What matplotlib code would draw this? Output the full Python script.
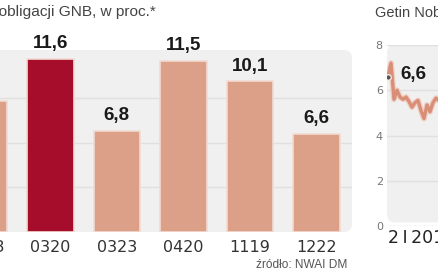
import numpy as np
import matplotlib
matplotlib.use("Agg")
import matplotlib.pyplot as plt
from matplotlib.patches import FancyBboxPatch

# bond yields (left panel)
series = ["0123", "0320", "0323", "0420", "1119", "1222"]
yields = [8.8, 11.6, 6.8, 11.5, 10.1, 6.6]
highlight = "0320"

# share price (right panel, start of the series)
price = [6.6, 7.2, 5.6, 6.0, 5.7, 5.6, 5.7, 5.5, 5.25, 5.45, 5.55, 5.1,
         4.75, 5.35, 5.05, 5.45, 5.65, 5.55, 5.6]
price_ticks = [0, 2, 4, 6, 8]

W, H = 439, 274
SALMON = "#dc9f88"
RED = "#a50d2b"
BG = "#f0f0f0"
LIGHT = ["Liberation Sans", "DejaVu Sans"]
BOLD = ["Liberation Sans", "DejaVu Sans"]


def fx(px):
    return px / W


def fy(py):
    return 1 - py / H


fig = plt.figure(figsize=(W / 100, H / 100), dpi=100)
fig.patch.set_facecolor("white")

# ---- left panel: bars ----
ax = fig.add_axes([fx(-60), fy(232), 412 / W, 182 / H])
ax.set_facecolor("none")
ax.set_xlim(-0.66, 5.536)
ax.set_ylim(0, 12.21)
bg = FancyBboxPatch((0, 0), 1, 1, boxstyle="round,pad=0,rounding_size=0.02",
                    mutation_aspect=412 / 182, transform=ax.transAxes,
                    facecolor=BG, edgecolor="none", zorder=0.2)
ax.add_patch(bg)
ax.set_yticks([3, 6, 9])
ax.yaxis.grid(True, color="#e0e0e0", linewidth=1)
ax.set_axisbelow(True)
for s in ax.spines.values():
    s.set_visible(False)

x = np.arange(len(series))
colors = [RED if s == highlight else SALMON for s in series]
bars = ax.bar(x, yields, width=0.7, color=colors, edgecolor="#f2dcd3",
              linewidth=1.2, zorder=2)
for xi, v in zip(x, yields):
    ax.annotate(f"{v:.1f}".replace(".", ","), (xi, v), xytext=(0, 5),
                textcoords="offset points", ha="center", va="bottom",
                fontsize=13.5, fontweight="bold", family=BOLD, color="#1a1a1a")
ax.set_xticks(x, series)
ax.tick_params(axis="x", length=0, pad=6, labelsize=11.5, labelcolor="#333333")
ax.tick_params(axis="y", length=0, labelleft=False)

fig.text(fx(156), fy(16), "Rentowność obligacji GNB, w proc.*", ha="right",
         va="baseline", fontsize=11.1, family=LIGHT, color="#444444")
fig.text(fx(347), fy(268), "źródło: NWAI DM", ha="right", va="baseline",
         fontsize=8.6, family=LIGHT, color="#555555")

# ---- right panel: line ----
ax2 = fig.add_axes([fx(387), fy(226), 200 / W, 181 / H])
ax2.set_facecolor("none")
ax2.set_xlim(-1 / 3, -1 / 3 + 200 / 3)
ax2.set_ylim(0, 8)
bg2 = FancyBboxPatch((0, 0.02), 1, 0.98, boxstyle="round,pad=0,rounding_size=0.04",
                     mutation_aspect=200 / 181, transform=ax2.transAxes,
                     facecolor=BG, edgecolor="none", zorder=0.2)
ax2.add_patch(bg2)
ax2.set_yticks(price_ticks)
ax2.yaxis.grid(True, color="#e0e0e0", linewidth=1)
ax2.set_axisbelow(True)
for s in ax2.spines.values():
    s.set_visible(False)
ax2.tick_params(axis="y", length=0, pad=3, labelsize=8, labelcolor="#777777")
ax2.set_xticks([])
px = np.arange(len(price))
ax2.plot(px, price, color="#f0cfc3", linewidth=4.2, zorder=2, solid_capstyle="round")
ax2.plot(px, price, color="#d98e77", linewidth=2.4, zorder=3)
ax2.plot(px[0], price[0], "o", markersize=4, markerfacecolor="#555555",
         markeredgecolor="#f5e6e0", markeredgewidth=1, zorder=4)
ax2.annotate(f"{price[0]:.1f}".replace(".", ","), (px[0], price[0]),
             xytext=(8.6, -1.4), textcoords="offset points", ha="left",
             va="baseline", fontsize=13.5, fontweight="bold", family=BOLD,
             color="#1a1a1a")

fig.text(fx(375), fy(17), "Getin Noble Bank", ha="left", va="baseline",
         fontsize=10.5, family=LIGHT, color="#444444")
fig.text(fx(388), fy(243), "2\u2009I\u20092018", ha="left", va="baseline",
         fontsize=12.5, family=["DejaVu Sans"], color="#222222")

fig.savefig("out.png", dpi=100)
